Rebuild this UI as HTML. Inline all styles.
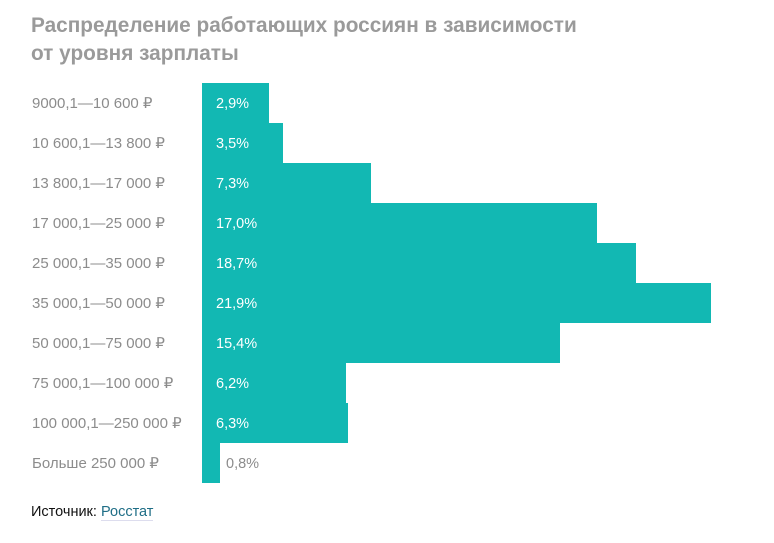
<!DOCTYPE html>
<html><head><meta charset="utf-8"><style>
body{margin:0;width:774px;height:543px;background:#fff;font-family:"Liberation Sans",sans-serif;position:relative;overflow:hidden}
.t{position:absolute;left:31px;top:12px;font-size:20.8px;font-weight:bold;color:#9a9a9a;line-height:28px}
.l{position:absolute;left:32px;font-size:15px;color:#8c8c8c;line-height:20px}
.b{position:absolute;left:202px;height:40px;background:#12b8b3}
.v{position:absolute;left:216px;font-size:14.5px;color:#fff;line-height:20px}
.s{position:absolute;left:31px;top:504px;font-size:14.5px;color:#111}
.s span{color:#1f6e86;border-bottom:1px solid #dde}
</style></head><body>
<div class="t">Распределение работающих россиян в зависимости<br>от уровня зарплаты</div>
<div class="b" style="top:83px;width:67px"></div>
<div class="b" style="top:123px;width:81px"></div>
<div class="b" style="top:163px;width:169px"></div>
<div class="b" style="top:203px;width:395px"></div>
<div class="b" style="top:243px;width:434px"></div>
<div class="b" style="top:283px;width:509px"></div>
<div class="b" style="top:323px;width:358px"></div>
<div class="b" style="top:363px;width:144px"></div>
<div class="b" style="top:403px;width:146px"></div>
<div class="b" style="top:443px;width:18px"></div>
<div class="l" style="top:94px">9000,1—10 600 ₽</div><div class="v" style="top:94px">2,9%</div>
<div class="l" style="top:134px">10 600,1—13 800 ₽</div><div class="v" style="top:134px">3,5%</div>
<div class="l" style="top:174px">13 800,1—17 000 ₽</div><div class="v" style="top:174px">7,3%</div>
<div class="l" style="top:214px">17 000,1—25 000 ₽</div><div class="v" style="top:214px">17,0%</div>
<div class="l" style="top:254px">25 000,1—35 000 ₽</div><div class="v" style="top:254px">18,7%</div>
<div class="l" style="top:294px">35 000,1—50 000 ₽</div><div class="v" style="top:294px">21,9%</div>
<div class="l" style="top:334px">50 000,1—75 000 ₽</div><div class="v" style="top:334px">15,4%</div>
<div class="l" style="top:374px">75 000,1—100 000 ₽</div><div class="v" style="top:374px">6,2%</div>
<div class="l" style="top:414px">100 000,1—250 000 ₽</div><div class="v" style="top:414px">6,3%</div>
<div class="l" style="top:454px">Больше 250 000 ₽</div><div class="v" style="top:454px;left:226px;color:#8c8c8c">0,8%</div>
<div class="s">Источник: <span>Росстат</span></div>
</body></html>
